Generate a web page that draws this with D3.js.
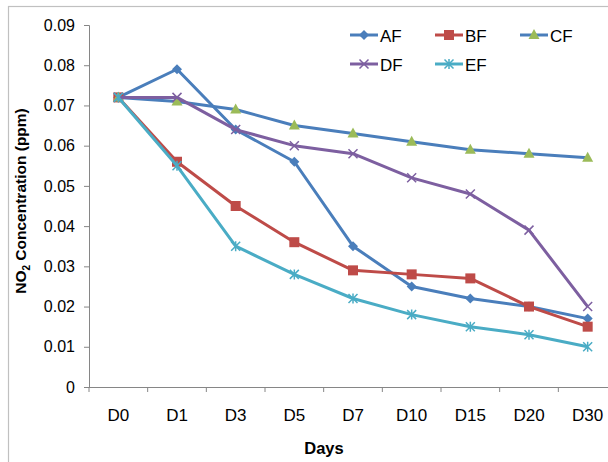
<!DOCTYPE html>
<html><head><meta charset="utf-8">
<script src="https://cdn.jsdelivr.net/npm/d3@7"></script>
<style>body{margin:0;background:#fff;}svg{display:block;font-family:"Liberation Sans",Arial,sans-serif;}</style>
</head><body>
<svg id="chart" width="608" height="462"></svg>
<script>
const days = ["D0","D1","D3","D5","D7","D10","D15","D20","D30"];
const AF = [0.072,0.079,0.064,0.056,0.035,0.025,0.022,0.020,0.017];
const BF = [0.072,0.056,0.045,0.036,0.029,0.028,0.027,0.020,0.015];
const CF = [0.072,0.071,0.069,0.065,0.063,0.061,0.059,0.058,0.057];
const DF = [0.072,0.072,0.064,0.060,0.058,0.052,0.048,0.039,0.020];
const EF = [0.072,0.055,0.035,0.028,0.022,0.018,0.015,0.013,0.010];
const yTicks = [0,0.01,0.02,0.03,0.04,0.05,0.06,0.07,0.08,0.09];

const series = [
  {name:"AF", values:AF, line:"#4a7ebb", fill:"#4a7ebb", sym:"diamond"},
  {name:"BF", values:BF, line:"#be4b48", fill:"#be4b48", sym:"square"},
  {name:"CF", values:CF, line:"#4a7ebb", fill:"#9bbb59", sym:"triangle"},
  {name:"DF", values:DF, line:"#7d5fa0", fill:"#7d5fa0", sym:"x"},
  {name:"EF", values:EF, line:"#4aacc5", fill:"#4aacc5", sym:"star"}
];

const svg = d3.select("#chart");
// outer chart border
svg.append("rect").attr("x",8.5).attr("y",6.5).attr("width",700).attr("height",600)
  .attr("fill","none").attr("stroke","#c0c0c0").attr("stroke-width",1.2);

const L=89, R=617, T=25, B=387;
const x = d3.scaleBand().domain(days).range([L,R]);
const y = d3.scaleLinear().domain([0,0.09]).range([B,T]);

// y axis
const yAxis = svg.append("g").attr("transform",`translate(${L},0)`)
  .call(d3.axisLeft(y).tickValues(yTicks).tickSize(5).tickPadding(9)
    .tickFormat(d=> d===0 ? "0" : d3.format(".2f")(d)));
yAxis.select(".domain").attr("stroke","#868686");
yAxis.selectAll(".tick line").attr("stroke","#868686");
yAxis.selectAll(".tick text").attr("font-size",16).attr("fill","#000")
  .attr("font-family","Liberation Sans, Arial, sans-serif");

// x axis
const xAxis = svg.append("g").attr("transform",`translate(0,${B})`)
  .call(d3.axisBottom(x).tickSize(0).tickPadding(22));
xAxis.select(".domain").attr("stroke","#868686").attr("d",`M${L},0.5H${R}`);
xAxis.selectAll(".tick text").attr("font-size",17).attr("fill","#000")
  .attr("font-family","Liberation Sans, Arial, sans-serif");
// band boundary tick marks
svg.append("g").selectAll("line").data(days.concat(["end"])).join("line")
  .attr("x1",(d,i)=>L + i*x.step()).attr("x2",(d,i)=>L + i*x.step())
  .attr("y1",B).attr("y2",B+5).attr("stroke","#868686");

// axis titles
svg.append("text").attr("x",324).attr("y",454).attr("text-anchor","middle")
  .attr("font-weight","bold").attr("font-size",16.5).text("Days");
const yt = svg.append("text").attr("transform","translate(26,201) rotate(-90)")
  .attr("text-anchor","middle").attr("font-weight","bold").attr("font-size",15.5);
yt.append("tspan").text("NO");
yt.append("tspan").attr("font-size",10).attr("dy",4).text("2");
yt.append("tspan").attr("dy",-4).text(" Concentration (ppm)");

// markers
function drawMarker(g, s, cx, cy){
  if(s.sym==="diamond"){
    g.append("path").attr("d",`M${cx},${cy-5}L${cx+5},${cy}L${cx},${cy+5}L${cx-5},${cy}Z`).attr("fill",s.fill);
  } else if(s.sym==="square"){
    g.append("rect").attr("x",cx-5).attr("y",cy-5).attr("width",10).attr("height",10).attr("fill",s.fill);
  } else if(s.sym==="triangle"){
    g.append("path").attr("d",`M${cx},${cy-6}L${cx+5.5},${cy+4}L${cx-5.5},${cy+4}Z`).attr("fill",s.fill);
  } else if(s.sym==="x"){
    g.append("path").attr("d",`M${cx-4.5},${cy-4.5}L${cx+4.5},${cy+4.5}M${cx-4.5},${cy+4.5}L${cx+4.5},${cy-4.5}`)
      .attr("stroke",s.fill).attr("stroke-width",1.5);
  } else if(s.sym==="star"){
    g.append("path").attr("d",`M${cx-4.5},${cy-4.5}L${cx+4.5},${cy+4.5}M${cx-4.5},${cy+4.5}L${cx+4.5},${cy-4.5}M${cx},${cy-5}L${cx},${cy+5}`)
      .attr("stroke",s.fill).attr("stroke-width",1.5);
  }
}

const line = d3.line().x((d,i)=>x(days[i])+x.bandwidth()/2).y(d=>y(d));
series.forEach(s=>{
  const g = svg.append("g");
  g.append("path").datum(s.values).attr("d",line).attr("fill","none")
    .attr("stroke",s.line).attr("stroke-width",3).attr("stroke-linejoin","round");
  s.values.forEach((v,i)=>drawMarker(g,s,x(days[i])+x.bandwidth()/2,y(v)));
});

// legend
const legPos = [[350,35],[435,35],[520,35],[350,64],[435,64]];
series.forEach((s,i)=>{
  const [lx,ly] = legPos[i];
  const g = svg.append("g");
  g.append("line").attr("x1",lx).attr("x2",lx+28).attr("y1",ly).attr("y2",ly)
    .attr("stroke",s.line).attr("stroke-width",3);
  drawMarker(g,s,lx+14,ly);
  g.append("text").attr("x",lx+30).attr("y",ly+6.5).attr("font-size",17).text(s.name);
});
</script>
</body></html>
